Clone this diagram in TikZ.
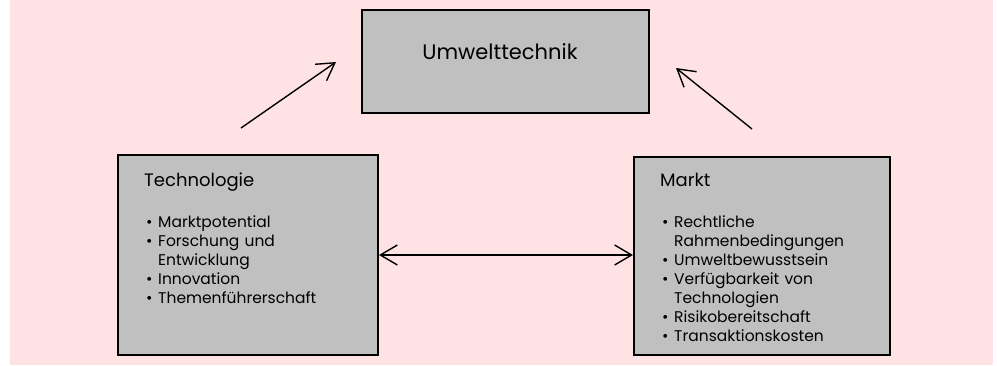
\documentclass[tikz,border=0pt]{standalone}
\usepackage{fontspec}
\setmainfont{Poppins}
\usetikzlibrary{arrows.meta}
\definecolor{bgpink}{RGB}{255,226,228}
\definecolor{boxgray}{RGB}{192,192,192}
\newcommand\bitem{\par\hangindent=14pt\hangafter=1\noindent\makebox[14pt][l]{\hspace{2pt}•}}
\tikzset{
  box/.style={draw=black, line width=2pt, fill=boxgray, anchor=north west, inner sep=0pt},
  conn/.style={line width=1.4pt, -{Straight Barb[length=17pt,width=20pt,line width=1.4pt]}},
  dconn/.style={line width=1.4pt, {Straight Barb[length=17pt,width=20pt,line width=1.4pt]}-{Straight Barb[length=17pt,width=20pt,line width=1.4pt]}},
  bodytext/.style={anchor=base west, inner sep=0pt, text width=230pt, align=left, font=\fontsize{15.5pt}{19pt}\selectfont}
}
\begin{document}
\begin{tikzpicture}[x=1pt,y=-1pt]
\useasboundingbox (0,0) rectangle (997,365);
\fill[bgpink] (10,0) rectangle (993,365);
\node[box, minimum width=287pt, minimum height=103pt] (umw) at (361,9) {};
\node[anchor=base, inner sep=0pt, font=\fontsize{21pt}{25pt}\selectfont] (umwtxt) at (500,59) {Umwelttechnik};
\node[box, minimum width=260pt, minimum height=200pt] (tech) at (117,154) {};
\node[box, minimum width=256pt, minimum height=198pt] (markt) at (633,156) {};
\node[bodytext] (techtxt) at (144,186) {{\fontsize{18pt}{19pt}\selectfont Technologie}\par\vspace{22pt}
\bitem Marktpotential
\bitem Forschung und\newline Entwicklung
\bitem Innovation
\bitem Themenführerschaft\par};
\node[bodytext] (markttxt) at (660,186) {{\fontsize{18pt}{19pt}\selectfont Markt}\par\vspace{22pt}
\bitem Rechtliche\newline Rahmenbedingungen
\bitem Umweltbewusstsein
\bitem Verfügbarkeit von\newline Technologien
\bitem Risikobereitschaft
\bitem Transaktionskosten\par};
\coordinate (a1s) at (241,128);
\coordinate (a1e) at (336,62);
\coordinate (a2s) at (752,129);
\coordinate (a2e) at (676,68);
\draw[conn] (a1s) -- (a1e);
\draw[conn] (a2s) -- (a2e);
\draw[dconn] (tech.east) -- (tech.east -| markt.west);
\end{tikzpicture}
\end{document}
